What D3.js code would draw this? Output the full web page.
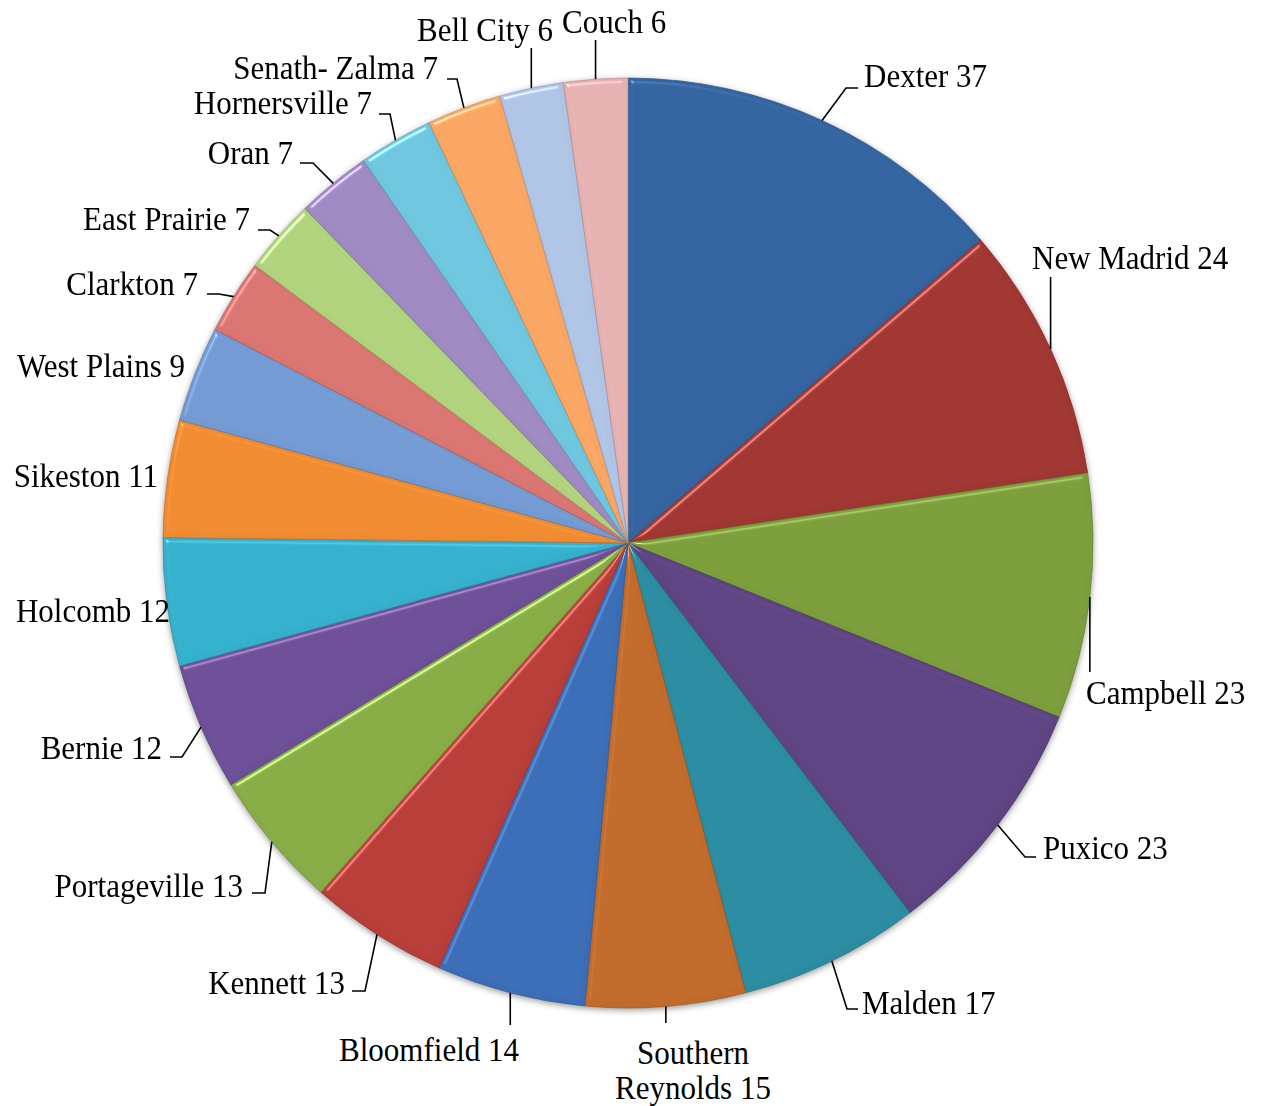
<!DOCTYPE html>
<html>
<head>
<meta charset="utf-8">
<script src="https://cdn.jsdelivr.net/npm/d3@7"></script>
<style>
  body { margin: 0; background: #fff; }
  svg text { font-family: "Liberation Serif", "Times New Roman", serif; font-size: 31px; fill: #000; }
</style>
</head>
<body>
<svg id="chart" width="1264" height="1106"></svg>
<script>
// schools and counts, clockwise from 12 o'clock
const schools = ["Dexter", "New Madrid", "Campbell", "Puxico", "Malden", "Southern Reynolds",
  "Bloomfield", "Kennett", "Portageville", "Bernie", "Holcomb", "Sikeston", "West Plains",
  "Clarkton", "East Prairie", "Oran", "Hornersville", "Senath- Zalma", "Bell City", "Couch"];
const counts = [37, 24, 23, 23, 17, 15, 14, 13, 13, 12, 12, 11, 9, 7, 7, 7, 7, 7, 6, 6];
const colors = ["#33649f", "#a03632", "#7c9d3b", "#5d4381", "#2a8ba1", "#c06a2b",
  "#3b6db7", "#b73d39", "#87ac45", "#6d4f98", "#34afcc", "#f08a30",
  "#7299d2", "#d87571", "#b0d27d", "#9e89c0", "#6ec5de", "#f9a563",
  "#afc4e4", "#e4b0b0"];

// label placement (text x/baseline, anchor, leader end + elbow)
// lead: "h" -> elbow then horizontal stub, "v" -> vertical line, null -> none
const labelLayout = [
  {x: 864, y: 87, a: "start", lead: "h", ex: 858, ey: 88, bend: -12},
  {x: 1032, y: 269, a: "start", lead: "v", ey: 277},
  {x: 1086, y: 704, a: "start", lead: "v", ey: 672},
  {x: 1043, y: 859, a: "start", lead: "h", ex: 1036, ey: 857, bend: -11},
  {x: 862, y: 1014, a: "start", lead: "h", ex: 858, ey: 1009, bend: -11},
  {x: 693, y: 1064, a: "middle", lead: "v", ey: 1023, lines: ["Southern", "Reynolds 15"]},
  {x: 519, y: 1061, a: "end", lead: "v", ey: 1025},
  {x: 345, y: 994, a: "end", lead: "h", ex: 352, ey: 991, bend: 13},
  {x: 243, y: 897, a: "end", lead: "h", ex: 252, ey: 893, bend: 13},
  {x: 162, y: 759, a: "end", lead: "h", ex: 170, ey: 757, bend: 12},
  {x: 170, y: 622, a: "end", lead: null},
  {x: 158, y: 487, a: "end", lead: null},
  {x: 185, y: 377, a: "end", lead: null},
  {x: 198, y: 295, a: "end", lead: "h", ex: 207, ey: 294, bend: 12},
  {x: 250, y: 230, a: "end", lead: "h", ex: 258, ey: 230, bend: 12},
  {x: 293, y: 164, a: "end", lead: "h", ex: 300, ey: 163, bend: 13},
  {x: 372, y: 114, a: "end", lead: "h", ex: 379, ey: 114, bend: 11},
  {x: 438, y: 79, a: "end", lead: "h", ex: 447, ey: 79, bend: 10},
  {x: 553, y: 41, a: "end", lead: "v", ey: 48},
  {x: 562, y: 33, a: "start", lead: "v", ey: 40}
];

const cx = 628, cy = 543, radius = 465;

const svg = d3.select("#chart");
const defs = svg.append("defs");

// soft bevel like the office chart style
const bevel = defs.append("filter").attr("id", "bevel")
  .attr("color-interpolation-filters", "sRGB")
  .attr("x", "-5%").attr("y", "-5%").attr("width", "110%").attr("height", "110%");
bevel.append("feGaussianBlur").attr("in", "SourceAlpha").attr("stdDeviation", 2.5).attr("result", "blur");
bevel.append("feSpecularLighting").attr("in", "blur").attr("surfaceScale", 4)
  .attr("specularConstant", 0.6).attr("specularExponent", 40)
  .attr("lighting-color", "#ffffff").attr("result", "spec")
  .append("feDistantLight").attr("azimuth", 235).attr("elevation", 40);
bevel.append("feComposite").attr("in", "spec").attr("in2", "SourceAlpha").attr("operator", "in").attr("result", "specIn");
bevel.append("feComposite").attr("in", "SourceGraphic").attr("in2", "specIn")
  .attr("operator", "arithmetic").attr("k1", 0).attr("k2", 1).attr("k3", 0.6).attr("k4", 0);

const shadow = defs.append("filter").attr("id", "shadow")
  .attr("color-interpolation-filters", "sRGB")
  .attr("x", "-10%").attr("y", "-10%").attr("width", "120%").attr("height", "120%");
shadow.append("feDropShadow").attr("dx", 0).attr("dy", 2).attr("stdDeviation", 3)
  .attr("flood-color", "#000").attr("flood-opacity", 0.4);

const data = schools.map((s, i) => ({name: s, value: counts[i], color: colors[i], lay: labelLayout[i]}));

const pie = d3.pie().sort(null).value(d => d.value);
const arc = d3.arc().innerRadius(0).outerRadius(radius);
const arcs = pie(data);

const g = svg.append("g").attr("transform", "translate(" + cx + "," + cy + ")");

const slices = g.append("g").attr("filter", "url(#shadow)");
slices.selectAll("path")
  .data(arcs)
  .enter().append("path")
  .attr("d", arc)
  .attr("fill", d => d.data.color)
  .attr("stroke", d => d3.color(d.data.color).darker(0.7))
  .attr("stroke-width", 0.6)
  .attr("filter", "url(#bevel)");

// leaders
const leaders = svg.append("g").attr("fill", "none").attr("stroke", "#000").attr("stroke-width", 1.6);
arcs.forEach(function(d) {
  const L = d.data.lay;
  if (!L.lead) return;
  const mid = (d.startAngle + d.endAngle) / 2;
  const sx = cx + radius * Math.sin(mid);
  const sy = cy - radius * Math.cos(mid);
  let pts;
  if (L.lead == "v") {
    pts = [[sx, sy], [sx, L.ey]];
  } else {
    pts = [[sx, sy], [L.ex + L.bend, L.ey], [L.ex, L.ey]];
  }
  leaders.append("path").attr("d", d3.line()(pts));
});

// labels (slightly tall glyphs, as in the original)
const labels = svg.append("g");
arcs.forEach(function(d) {
  const L = d.data.lay;
  const t = labels.append("text")
    .attr("transform", "translate(" + L.x + "," + L.y + ") scale(1,1.07)")
    .attr("text-anchor", L.a);
  if (L.lines) {
    L.lines.forEach(function(line, k) {
      t.append("tspan").attr("x", 0).attr("dy", k == 0 ? 0 : 33).text(line);
    });
  } else {
    t.text(d.data.name + " " + d.data.value);
  }
});
</script>
</body>
</html>
